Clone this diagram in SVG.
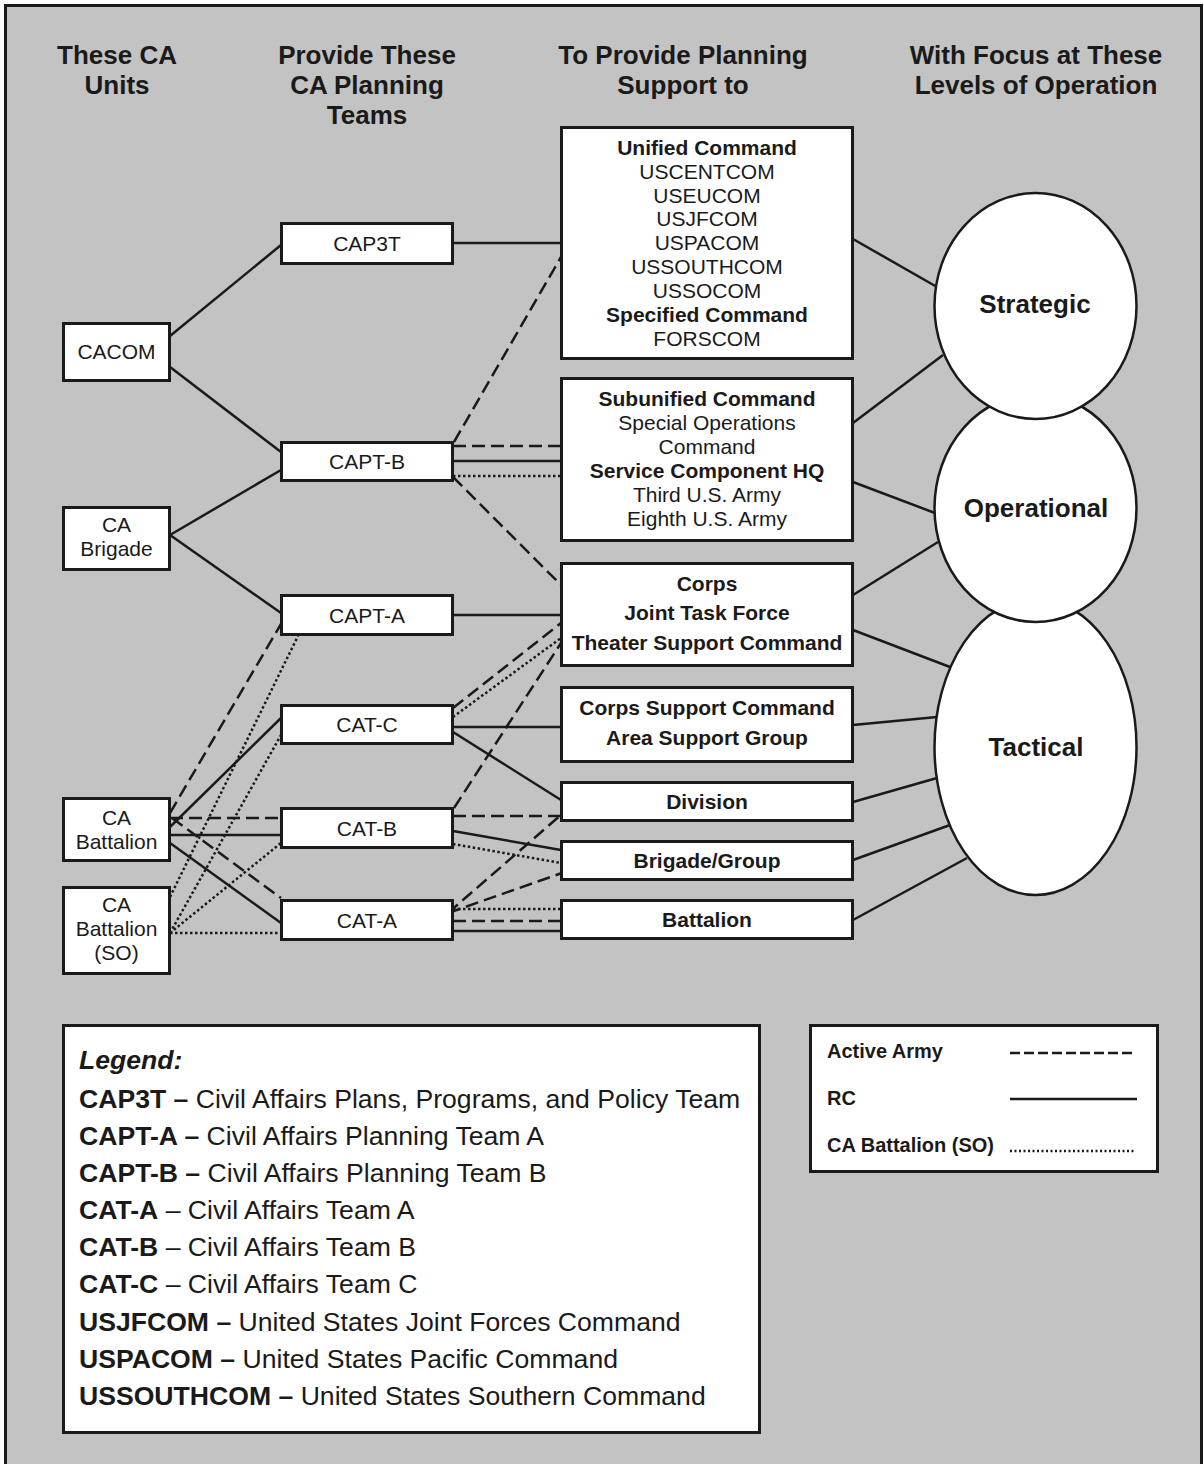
<svg xmlns="http://www.w3.org/2000/svg" width="1204" height="1464" viewBox="0 0 1204 1464">
<style>
.bg{fill:#c3c3c3;stroke:#1a1a1a;stroke-width:3}
.box{fill:#fff;stroke:#1a1a1a;stroke-width:3}
.ell{fill:#fff;stroke:#1a1a1a;stroke-width:2.5}
text{font-family:"Liberation Sans",Arial,sans-serif;fill:#1a1a1a}
.h{font-size:26px;font-weight:bold;text-anchor:middle}
.t{font-size:21px;text-anchor:middle}
.tb{font-size:21px;font-weight:bold;text-anchor:middle}
.e{font-size:26px;font-weight:bold;text-anchor:middle}
.lg{font-size:26.6px}
.lk{font-size:20px;font-weight:bold}
.rc{stroke:#1a1a1a;stroke-width:2.5;fill:none}
.aa{stroke:#1a1a1a;stroke-width:2.5;fill:none;stroke-dasharray:13 6}
.so{stroke:#1a1a1a;stroke-width:2.5;fill:none;stroke-dasharray:2.5 2.5}
</style>
<rect class="bg" x="5.5" y="5.5" width="1196" height="1480"/>

<g id="headers">
<text class="h" x="117" y="64">These CA</text>
<text class="h" x="117" y="94">Units</text>
<text class="h" x="367" y="64">Provide These</text>
<text class="h" x="367" y="94">CA Planning</text>
<text class="h" x="367" y="124">Teams</text>
<text class="h" x="683" y="64">To Provide Planning</text>
<text class="h" x="683" y="94">Support to</text>
<text class="h" x="1036" y="64">With Focus at These</text>
<text class="h" x="1036" y="94">Levels of Operation</text>
</g>

<g id="connectors">
<line class="rc" x1="853" y1="239" x2="937" y2="287"/>
<line class="rc" x1="853" y1="423" x2="943" y2="355"/>
<line class="rc" x1="853" y1="482" x2="935" y2="513"/>
<line class="rc" x1="853" y1="595" x2="938" y2="542"/>
<line class="rc" x1="853" y1="630" x2="950" y2="667"/>
<line class="rc" x1="853" y1="725" x2="937" y2="717"/>
<line class="rc" x1="853" y1="802" x2="937" y2="778"/>
<line class="rc" x1="853" y1="860" x2="950" y2="825"/>
<line class="rc" x1="853" y1="920" x2="967" y2="858"/>
<line class="rc" x1="170" y1="336" x2="281" y2="245"/>
<line class="rc" x1="170" y1="367" x2="281" y2="452"/>
<line class="rc" x1="170" y1="535" x2="281" y2="470"/>
<line class="rc" x1="170" y1="535" x2="281" y2="613"/>
<line class="aa" x1="170" y1="813" x2="281" y2="624"/>
<line class="so" x1="170" y1="897" x2="298" y2="636"/>
<line class="rc" x1="170" y1="827" x2="281" y2="718"/>
<line class="so" x1="170" y1="933" x2="281" y2="735"/>
<line class="aa" x1="170" y1="818" x2="281" y2="818"/>
<line class="rc" x1="170" y1="835" x2="281" y2="835"/>
<line class="so" x1="170" y1="933" x2="281" y2="843"/>
<line class="aa" x1="172" y1="818" x2="281" y2="898"/>
<line class="rc" x1="170" y1="843" x2="281" y2="923"/>
<line class="so" x1="170" y1="933" x2="281" y2="933"/>
<line class="rc" x1="453" y1="243" x2="561" y2="243"/>
<line class="aa" x1="454" y1="442" x2="561" y2="257"/>
<line class="aa" x1="453" y1="446" x2="561" y2="446"/>
<line class="rc" x1="453" y1="461" x2="561" y2="461"/>
<line class="so" x1="453" y1="476" x2="561" y2="476"/>
<line class="aa" x1="453" y1="477" x2="561" y2="585"/>
<line class="rc" x1="453" y1="615" x2="561" y2="615"/>
<line class="aa" x1="453" y1="708" x2="561" y2="623"/>
<line class="so" x1="453" y1="717" x2="561" y2="638"/>
<line class="rc" x1="453" y1="727" x2="561" y2="727"/>
<line class="rc" x1="453" y1="732" x2="561" y2="800"/>
<line class="aa" x1="454" y1="808" x2="561" y2="643"/>
<line class="aa" x1="453" y1="816" x2="561" y2="816"/>
<line class="rc" x1="453" y1="831" x2="561" y2="850"/>
<line class="so" x1="453" y1="844" x2="561" y2="863"/>
<line class="aa" x1="448" y1="913" x2="562" y2="814"/>
<line class="aa" x1="448" y1="913" x2="562" y2="873"/>
<line class="so" x1="453" y1="909" x2="561" y2="909"/>
<line class="aa" x1="453" y1="921" x2="561" y2="921"/>
<line class="rc" x1="453" y1="931" x2="561" y2="931"/>
</g>

<g id="cacom"><rect class="box" x="63.5" y="323.5" width="106" height="57"/><text class="t" x="116.5" y="359">CACOM</text></g>
<g id="ca-brigade"><rect class="box" x="63.5" y="507.5" width="106" height="62"/><text class="t" x="116.5" y="532">CA</text><text class="t" x="116.5" y="556">Brigade</text></g>
<g id="ca-battalion"><rect class="box" x="63.5" y="798.5" width="106" height="62"/><text class="t" x="116.5" y="825">CA</text><text class="t" x="116.5" y="849">Battalion</text></g>
<g id="ca-battalion-so"><rect class="box" x="63.5" y="887.5" width="106" height="86"/><text class="t" x="116.5" y="912">CA</text><text class="t" x="116.5" y="936">Battalion</text><text class="t" x="116.5" y="960">(SO)</text></g>

<g id="cap3t"><rect class="box" x="281.5" y="223.5" width="171" height="40"/><text class="t" x="367" y="251">CAP3T</text></g>
<g id="capt-b"><rect class="box" x="281.5" y="442.5" width="171" height="38"/><text class="t" x="367" y="469">CAPT-B</text></g>
<g id="capt-a"><rect class="box" x="281.5" y="595.5" width="171" height="39"/><text class="t" x="367" y="623">CAPT-A</text></g>
<g id="cat-c"><rect class="box" x="281.5" y="705.5" width="171" height="38"/><text class="t" x="367" y="732">CAT-C</text></g>
<g id="cat-b"><rect class="box" x="281.5" y="808.5" width="171" height="39"/><text class="t" x="367" y="836">CAT-B</text></g>
<g id="cat-a"><rect class="box" x="281.5" y="900.5" width="171" height="39"/><text class="t" x="367" y="928">CAT-A</text></g>

<g id="unified"><rect class="box" x="561.5" y="127.5" width="291" height="231"/>
<text class="tb" x="707" y="155">Unified Command</text>
<text class="t" x="707" y="179">USCENTCOM</text>
<text class="t" x="707" y="203">USEUCOM</text>
<text class="t" x="707" y="226">USJFCOM</text>
<text class="t" x="707" y="250">USPACOM</text>
<text class="t" x="707" y="274">USSOUTHCOM</text>
<text class="t" x="707" y="298">USSOCOM</text>
<text class="tb" x="707" y="322">Specified Command</text>
<text class="t" x="707" y="346">FORSCOM</text>
</g>
<g id="subunified"><rect class="box" x="561.5" y="378.5" width="291" height="162"/>
<text class="tb" x="707" y="406">Subunified Command</text>
<text class="t" x="707" y="430">Special Operations</text>
<text class="t" x="707" y="454">Command</text>
<text class="tb" x="707" y="478">Service Component HQ</text>
<text class="t" x="707" y="502">Third U.S. Army</text>
<text class="t" x="707" y="526">Eighth U.S. Army</text>
</g>
<g id="corps"><rect class="box" x="561.5" y="563.5" width="291" height="102"/>
<text class="tb" x="707" y="591">Corps</text>
<text class="tb" x="707" y="620">Joint Task Force</text>
<text class="tb" x="707" y="650">Theater Support Command</text>
</g>
<g id="corps-support"><rect class="box" x="561.5" y="687.5" width="291" height="74"/>
<text class="tb" x="707" y="715">Corps Support Command</text>
<text class="tb" x="707" y="745">Area Support Group</text>
</g>
<g id="division"><rect class="box" x="561.5" y="782.5" width="291" height="38"/><text class="tb" x="707" y="809">Division</text></g>
<g id="brigade-group"><rect class="box" x="561.5" y="841.5" width="291" height="38"/><text class="tb" x="707" y="868">Brigade/Group</text></g>
<g id="battalion"><rect class="box" x="561.5" y="900.5" width="291" height="38"/><text class="tb" x="707" y="927">Battalion</text></g>

<g id="tactical"><ellipse class="ell" cx="1035.5" cy="747" rx="101" ry="148"/><text class="e" x="1036" y="756">Tactical</text></g>
<g id="operational"><ellipse class="ell" cx="1035.5" cy="508" rx="101" ry="114"/><text class="e" x="1036" y="517">Operational</text></g>
<g id="strategic"><ellipse class="ell" cx="1035.5" cy="306" rx="101" ry="113"/><text class="e" x="1035" y="313">Strategic</text></g>

<g id="legend"><rect class="box" x="63.5" y="1025.5" width="696" height="407"/>
<text class="lg" x="79" y="1069" font-weight="bold" font-style="italic">Legend:</text>
<text class="lg" x="79" y="1108"><tspan font-weight="bold">CAP3T –</tspan> Civil Affairs Plans, Programs, and Policy Team</text>
<text class="lg" x="79" y="1145"><tspan font-weight="bold">CAPT-A –</tspan> Civil Affairs Planning Team A</text>
<text class="lg" x="79" y="1182"><tspan font-weight="bold">CAPT-B –</tspan> Civil Affairs Planning Team B</text>
<text class="lg" x="79" y="1219"><tspan font-weight="bold">CAT-A</tspan> – Civil Affairs Team A</text>
<text class="lg" x="79" y="1256"><tspan font-weight="bold">CAT-B</tspan> – Civil Affairs Team B</text>
<text class="lg" x="79" y="1293"><tspan font-weight="bold">CAT-C</tspan> – Civil Affairs Team C</text>
<text class="lg" x="79" y="1331"><tspan font-weight="bold">USJFCOM –</tspan> United States Joint Forces Command</text>
<text class="lg" x="79" y="1368"><tspan font-weight="bold">USPACOM –</tspan> United States Pacific Command</text>
<text class="lg" x="79" y="1405"><tspan font-weight="bold">USSOUTHCOM –</tspan> United States Southern Command</text>
</g>

<g id="line-key"><rect class="box" x="810.5" y="1025.5" width="347" height="146"/>
<text class="lk" x="827" y="1058">Active Army</text>
<line class="aa" x1="1010" y1="1053" x2="1135" y2="1053" style="stroke-dasharray:10 4"/>
<text class="lk" x="827" y="1105">RC</text>
<line class="rc" x1="1010" y1="1099" x2="1137" y2="1099"/>
<text class="lk" x="827" y="1152">CA Battalion (SO)</text>
<line class="so" x1="1010" y1="1151" x2="1135" y2="1151" style="stroke-dasharray:2 2.5"/>
</g>
</svg>
